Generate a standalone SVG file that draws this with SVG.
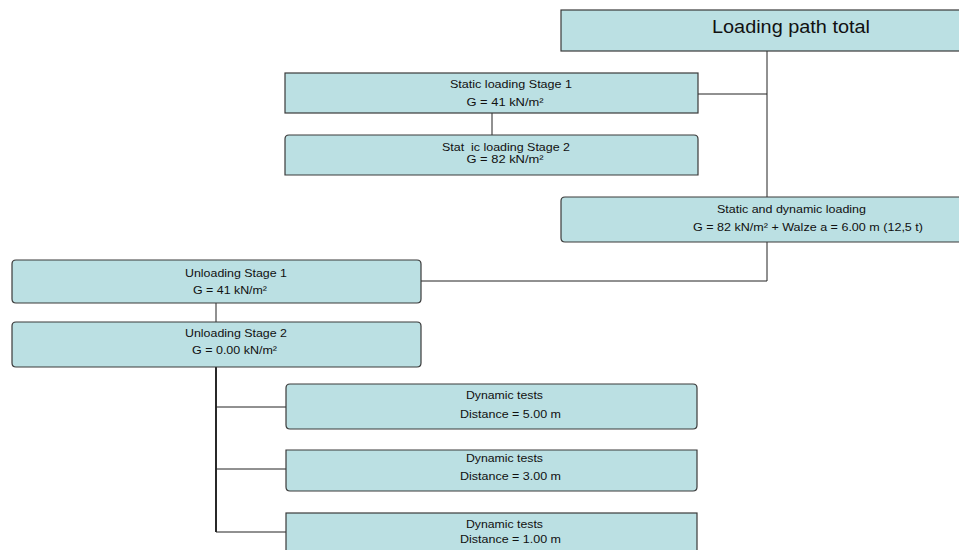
<svg xmlns="http://www.w3.org/2000/svg" width="959" height="550" viewBox="0 0 959 550">
<style>
.box{fill:#BBE0E3;stroke:#3a3a3a;stroke-width:1.2}
.t{font-family:"Liberation Sans",Arial,sans-serif;font-size:11.5px;fill:#111;text-anchor:middle}
.big{font-family:"Liberation Sans",Arial,sans-serif;font-size:17.5px;fill:#111;text-anchor:middle}
.c{fill:none;stroke:#222;stroke-width:1}
.ct{fill:none;stroke:#111;stroke-width:1.8}
</style>
<rect width="959" height="550" fill="#ffffff"/>
<g id="connectors">
<path class="c" d="M767,51 V197"/>
<path class="c" d="M698,94 H767"/>
<path class="c" d="M492,113 V135"/>
<path class="c" d="M767,242 V281 H421"/>
<path class="c" d="M216,303 V322"/>
<path class="ct" d="M216,367 V532"/>
<path class="c" d="M216,407 H286 M216,469 H286 M216,532 H286"/>
</g>
<g id="n-total">
<rect class="box" x="561" y="10" width="402" height="41"/>
<text class="big" x="791" y="33" textLength="158" lengthAdjust="spacingAndGlyphs">Loading path total</text>
</g>
<g id="n-static1">
<rect class="box" x="285" y="73" width="413" height="40"/>
<text class="t" x="511" y="88" textLength="122" lengthAdjust="spacingAndGlyphs">Static loading Stage 1</text>
<text class="t" x="505" y="106" textLength="77" lengthAdjust="spacingAndGlyphs">G = 41 kN/m²</text>
</g>
<g id="n-static2">
<path class="box" d="M285,175 V139 Q285,135 289,135 H694 Q698,135 698,139 V175 Z"/>
<text class="t" x="506" y="151" textLength="128" lengthAdjust="spacingAndGlyphs">Stat&#160; ic loading Stage 2</text>
<text class="t" x="505" y="163" textLength="77" lengthAdjust="spacingAndGlyphs">G = 82 kN/m²</text>
</g>
<g id="n-staticdynamic">
<path class="box" d="M561,201 Q561,197 565,197 H963 V242 H565 Q561,242 561,238 Z"/>
<text class="t" x="791.5" y="213" textLength="149" lengthAdjust="spacingAndGlyphs">Static and dynamic loading</text>
<text class="t" x="808" y="231" textLength="230" lengthAdjust="spacingAndGlyphs">G = 82 kN/m² + Walze a = 6.00 m (12,5 t)</text>
</g>
<g id="n-unload1">
<path class="box" d="M16,260 H417 Q421,260 421,264 V299 Q421,303 417,303 H16 Q12,303 12,299 V264 Q12,260 16,260 Z"/>
<text class="t" x="236" y="277" textLength="102" lengthAdjust="spacingAndGlyphs">Unloading Stage 1</text>
<text class="t" x="230" y="294" textLength="74" lengthAdjust="spacingAndGlyphs">G = 41 kN/m²</text>
</g>
<g id="n-unload2">
<path class="box" d="M16,322 H417 Q421,322 421,326 V363 Q421,367 417,367 H16 Q12,367 12,363 V326 Q12,322 16,322 Z"/>
<text class="t" x="236" y="337" textLength="102" lengthAdjust="spacingAndGlyphs">Unloading Stage 2</text>
<text class="t" x="234.5" y="354" textLength="85" lengthAdjust="spacingAndGlyphs">G = 0.00 kN/m²</text>
</g>
<g id="n-dyn1">
<path class="box" d="M290,384 H693 Q697,384 697,388 V425 Q697,429 693,429 H290 Q286,429 286,425 V388 Q286,384 290,384 Z"/>
<text class="t" x="504.5" y="399" textLength="77" lengthAdjust="spacingAndGlyphs">Dynamic tests</text>
<text class="t" x="510.5" y="418" textLength="101" lengthAdjust="spacingAndGlyphs">Distance = 5.00 m</text>
</g>
<g id="n-dyn2">
<path class="box" d="M286,450 H697 V487 Q697,491 693,491 H290 Q286,491 286,487 Z"/>
<text class="t" x="504.5" y="462" textLength="77" lengthAdjust="spacingAndGlyphs">Dynamic tests</text>
<text class="t" x="510.5" y="480" textLength="101" lengthAdjust="spacingAndGlyphs">Distance = 3.00 m</text>
</g>
<g id="n-dyn3">
<rect class="box" x="286" y="513" width="411" height="42"/>
<text class="t" x="504.5" y="528" textLength="77" lengthAdjust="spacingAndGlyphs">Dynamic tests</text>
<text class="t" x="510.5" y="543" textLength="101" lengthAdjust="spacingAndGlyphs">Distance = 1.00 m</text>
</g>
</svg>
